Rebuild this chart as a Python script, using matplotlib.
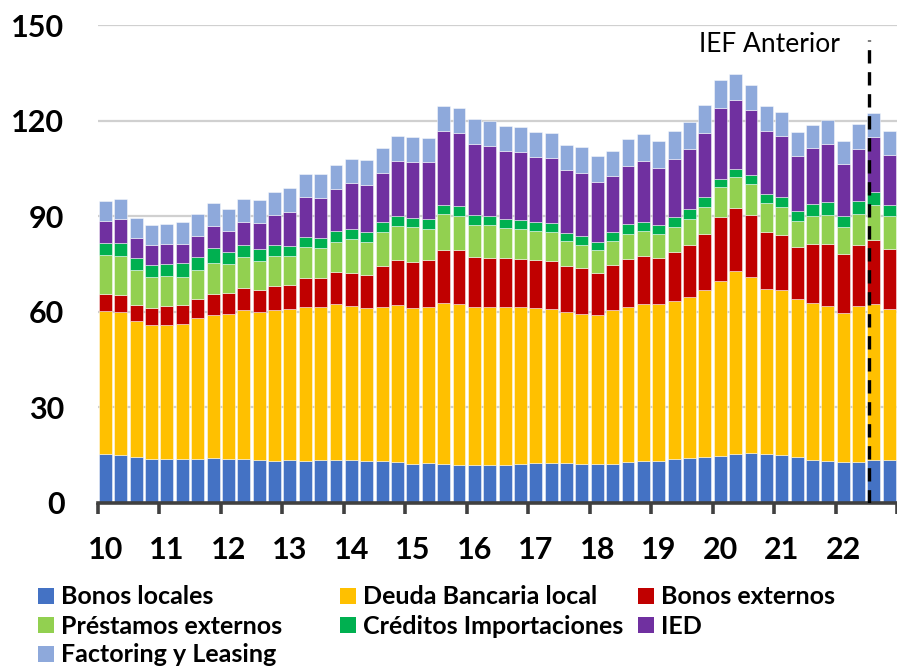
import numpy as np
import matplotlib
matplotlib.use("Agg")
import matplotlib.pyplot as plt
from matplotlib.patches import Patch

plt.rcParams["font.family"] = ["Lato", "DejaVu Sans"]

## data (quarterly, 2010Q1 .. 2022Q4), stacked segments
years = ["10", "11", "12", "13", "14", "15", "16", "17", "18", "19", "20", "21", "22"]

bonos_locales = [15.3, 15.1, 14.5, 13.9, 13.8, 13.8, 13.8, 14.0, 13.9, 13.8, 13.4, 13.2, 13.4,
                 13.1, 13.4, 13.4, 13.3, 13.1, 13.2, 12.9, 12.3, 12.4, 12.2, 12.0, 11.9, 11.9,
                 11.9, 12.3, 12.6, 12.6, 12.5, 12.3, 12.3, 12.3, 12.9, 13.2, 13.2, 13.9, 14.2,
                 14.4, 14.8, 15.3, 15.5, 15.2, 15.1, 14.5, 13.6, 13.2, 12.9, 12.9, 13.5, 13.5]
deuda_bancaria = [44.9, 44.9, 42.6, 42.0, 42.2, 42.5, 44.3, 44.9, 45.4, 46.8, 46.4, 47.4, 47.4,
                  48.5, 48.2, 49.0, 48.6, 48.1, 48.4, 49.1, 49.0, 49.1, 50.5, 50.6, 49.5, 49.7,
                  49.7, 49.1, 48.6, 48.2, 47.4, 46.9, 46.7, 48.3, 48.6, 49.4, 49.2, 49.6, 50.6,
                  52.5, 54.9, 57.6, 55.5, 52.1, 51.9, 49.4, 49.2, 48.7, 46.8, 48.8, 49.0, 47.5]
bonos_externos = [5.4, 5.4, 5.0, 5.3, 5.9, 5.8, 5.9, 6.7, 6.5, 7.0, 7.2, 7.5, 7.6,
                  8.9, 9.0, 10.2, 10.4, 10.4, 12.9, 14.3, 14.5, 14.8, 16.8, 16.7, 15.9, 15.4,
                  15.2, 15.1, 15.1, 15.2, 14.6, 14.5, 13.2, 14.2, 15.1, 14.9, 14.4, 15.3, 16.3,
                  17.7, 20.2, 19.8, 19.5, 17.8, 17.1, 16.6, 18.6, 19.5, 18.4, 19.4, 20.1, 18.8]
prestamos_ext = [12.2, 12.1, 11.0, 9.9, 9.5, 9.0, 9.1, 9.9, 9.2, 9.5, 9.0, 9.4, 9.1,
                 9.8, 9.4, 9.4, 10.6, 10.4, 10.6, 10.6, 10.7, 9.8, 11.2, 10.8, 10.1, 10.3,
                 9.6, 9.6, 9.1, 9.2, 7.8, 7.3, 7.2, 7.5, 7.8, 7.8, 7.7, 8.0, 8.2,
                 8.3, 9.2, 9.6, 9.6, 9.1, 8.8, 7.9, 8.7, 8.9, 8.4, 9.6, 11.0, 10.3]
creditos_imp = [3.7, 4.2, 3.7, 3.7, 3.7, 4.2, 4.2, 4.5, 3.7, 3.9, 3.6, 3.6, 3.1,
                3.2, 3.3, 3.4, 3.1, 3.1, 3.0, 3.1, 2.9, 3.1, 3.0, 3.1, 2.9, 2.7,
                2.8, 2.8, 2.8, 2.8, 2.6, 2.8, 2.6, 2.9, 3.1, 3.0, 2.9, 2.9, 2.9,
                3.1, 2.7, 2.5, 2.8, 2.9, 3.2, 3.2, 3.7, 4.1, 3.6, 4.1, 3.9, 3.4]
ied = [7.1, 7.5, 6.4, 6.2, 6.2, 6.0, 6.5, 7.1, 6.6, 7.1, 8.4, 9.2, 10.8,
       12.5, 12.5, 13.2, 14.5, 14.8, 15.4, 17.5, 17.8, 17.8, 23.1, 23.1, 22.4, 22.1,
       21.3, 21.4, 20.4, 20.4, 19.7, 19.7, 18.9, 17.4, 18.3, 19.0, 17.9, 18.4, 18.9,
       20.3, 22.2, 21.7, 20.5, 19.7, 19.1, 17.5, 17.6, 18.4, 16.2, 16.5, 17.5, 15.9]
factoring = [6.2, 6.1, 6.4, 6.4, 6.3, 6.8, 6.9, 7.2, 7.0, 7.2, 7.1, 7.4, 7.4,
             7.4, 7.4, 7.5, 7.5, 7.7, 7.9, 7.7, 7.6, 7.6, 7.9, 7.9, 7.9, 7.8,
             7.9, 7.9, 7.8, 7.9, 7.9, 8.2, 8.1, 8.0, 8.5, 8.6, 8.5, 8.6, 8.6,
             8.8, 8.8, 8.2, 7.8, 7.9, 7.6, 7.3, 7.3, 7.5, 7.3, 7.6, 7.4, 7.5]

series = [bonos_locales, deuda_bancaria, bonos_externos, prestamos_ext,
          creditos_imp, ied, factoring]
names = ["Bonos locales", "Deuda Bancaria local", "Bonos externos",
         "Préstamos externos", "Créditos Importaciones", "IED", "Factoring y Leasing"]
colors = ["#4472C4", "#FFC000", "#C00000", "#92D050", "#00B050", "#7030A0", "#8EA9DB"]

ief_pos = 49.67   # previous report cut-off
ief_text = "IEF Anterior"

## PLOT
fig = plt.figure(figsize=(8.97, 6.72), dpi=100)
ax = fig.add_axes([0.109, 0.2518, 0.891, 0.7104])

x = np.arange(len(bonos_locales))
bottom = np.zeros(len(x))
for vals, col in zip(series, colors):
    ax.bar(x, vals, width=0.84, bottom=bottom, color=col,
           edgecolor=(1, 1, 1, 0.55), linewidth=0.6, zorder=2)
    bottom += np.array(vals)

# dashed marker
ax.plot([ief_pos, ief_pos], [0, 145.4], color="black", lw=2.4,
        dashes=(4, 2.6), zorder=4)
ax.text(43.2, 143.9, ief_text, fontsize=19, ha="center", va="center", zorder=5)

ax.set_xlim(-0.5, 51.23)
ax.set_ylim(0, 150)
ax.set_yticks([0, 30, 60, 90, 120, 150])
ax.grid(axis="y", color="#D0D0D0", lw=1.6, zorder=0)
ax.set_axisbelow(True)

ax.set_xticks(np.arange(0, 52, 4))
ax.set_xticklabels(years)
ax.set_xticks(np.arange(-0.5, 52, 4), minor=True)
ax.tick_params(axis="x", which="major", length=0, pad=24, labelsize=22)
ax.tick_params(axis="x", which="minor", length=8, width=2.6, color="#404040")
ax.tick_params(axis="y", length=0, pad=24, labelsize=22)
for lab in ax.get_xticklabels() + ax.get_yticklabels():
    lab.set_fontweight("bold")

for s in ["top", "right", "left"]:
    ax.spines[s].set_visible(False)
ax.spines["bottom"].set_color("#404040")
ax.spines["bottom"].set_linewidth(2.6)
ax.spines["bottom"].set_zorder(3)

# LEGEND, three fixed columns
handles = [Patch(facecolor=c, edgecolor="none") for c in colors]
cols = [[0, 3, 6], [1, 4], [2, 5]]
col_x = [38, 340, 638]
for idx, cx in zip(cols, col_x):
    fig.legend([handles[i] for i in idx], [names[i] for i in idx],
               loc="upper left", bbox_to_anchor=(cx / 897, 1 - 585.5 / 672),
               frameon=False, borderpad=0, borderaxespad=0,
               handlelength=0.62, handleheight=0.62, handletextpad=0.3,
               labelspacing=0.24, prop={"weight": "bold", "size": 18})

fig.savefig("out.png", dpi=100)
